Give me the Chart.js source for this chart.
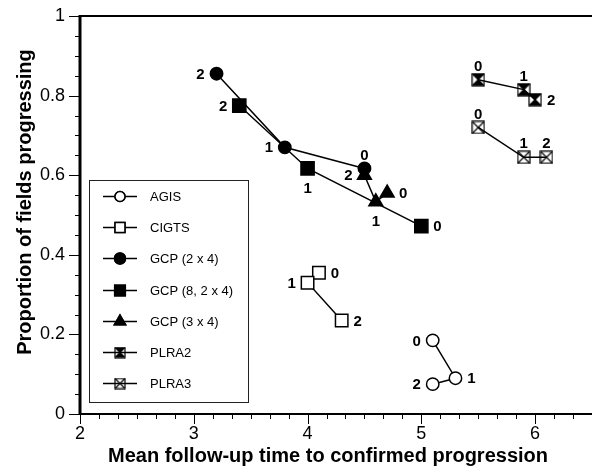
<!DOCTYPE html>
<html>
<head>
<meta charset="utf-8">
<script src="https://cdn.jsdelivr.net/npm/chart.js@4.4.1/dist/chart.umd.min.js"></script>
<style>
  html, body { margin: 0; padding: 0; background: #fff; }
</style>
</head>
<body>
<canvas id="chart" width="592" height="472"></canvas>
<script>
// ---- data ----
const seriesNames = ['AGIS', 'CIGTS', 'GCP (2 x 4)', 'GCP (8, 2 x 4)', 'GCP (3 x 4)', 'PLRA2', 'PLRA3'];
const pointLabels = ['0', '1', '2'];

const agisX = [5.1, 5.3, 5.1];
const agisY = [0.185, 0.09, 0.075];
const cigtsX = [4.1, 4.0, 4.3];
const cigtsY = [0.355, 0.33, 0.235];
const gcp24X = [4.5, 3.8, 3.2];
const gcp24Y = [0.617, 0.67, 0.855];
const gcp824X = [5.0, 4.0, 3.4];
const gcp824Y = [0.472, 0.617, 0.775];
const gcp34X = [4.7, 4.6, 4.5];
const gcp34Y = [0.555, 0.533, 0.60];
const plra2X = [5.5, 5.9, 6.0];
const plra2Y = [0.84, 0.815, 0.79];
const plra3X = [5.5, 5.9, 6.1];
const plra3Y = [0.72, 0.645, 0.645];

const xTicks = [2, 3, 4, 5, 6];
const yTicks = [0, 0.2, 0.4, 0.6, 0.8, 1];
const xTitle = 'Mean follow-up time to confirmed progression';
const yTitle = 'Proportion of fields progressing';

// ---- styling ----
const FONT = "'Liberation Sans', Arial, Helvetica, sans-serif";
// side of each point's number label (l, r, t, b), per series
const labelSides = [
    ['l', 'r', 'l'],
    ['r', 'l', 'r'],
    ['t', 'l', 'l'],
    ['r', 'b', 'l'],
    ['r', 'b', 'l'],
    ['t', 't', 'r'],
    ['t', 't', 't']
];

function boxX(size, fill) {
    const c = document.createElement('canvas');
    c.width = size + 2;
    c.height = size + 2;
    const g = c.getContext('2d');
    const o = 1, s = size;
    g.fillStyle = '#000';
    g.beginPath();
    if (fill === 'tb') {
        g.moveTo(o, o); g.lineTo(o + s, o); g.lineTo(o + s / 2, o + s / 2); g.closePath();
        g.moveTo(o, o + s); g.lineTo(o + s, o + s); g.lineTo(o + s / 2, o + s / 2); g.closePath();
    }
    g.fill();
    g.strokeStyle = '#000';
    g.lineWidth = 1.2;
    g.strokeRect(o, o, s, s);
    g.beginPath();
    g.moveTo(o, o); g.lineTo(o + s, o + s);
    g.moveTo(o + s, o); g.lineTo(o, o + s);
    g.stroke();
    return c;
}

const plra2Img = boxX(12, 'tb');
const plra3Img = boxX(12, 'none');
const plra2Leg = boxX(10, 'tb');
const plra3Leg = boxX(10, 'none');

function pts(xs, ys) {
    return xs.map((x, i) => ({ x: x, y: ys[i] }));
}

const styles = [
    { pointStyle: 'circle', radius: 6.2, fill: '#fff', legR: 5 },
    { pointStyle: 'rect', radius: 8.8, fill: '#fff', legR: 7 },
    { pointStyle: 'circle', radius: 6.2, fill: '#000', legR: 5.5 },
    { pointStyle: 'rect', radius: 9.3, fill: '#000', legR: 7.5 },
    { pointStyle: 'triangle', radius: 8, fill: '#000', legR: 6.5 },
    { pointStyle: plra2Img, radius: 7, fill: '#000', leg: plra2Leg },
    { pointStyle: plra3Img, radius: 7, fill: '#fff', leg: plra3Leg }
];

const seriesData = [
    pts(agisX, agisY), pts(cigtsX, cigtsY), pts(gcp24X, gcp24Y), pts(gcp824X, gcp824Y),
    pts(gcp34X, gcp34Y), pts(plra2X, plra2Y), pts(plra3X, plra3Y)
];

const datasets = seriesData.map((d, i) => ({
    label: seriesNames[i],
    data: d,
    showLine: true,
    borderColor: '#000',
    borderWidth: 1.5,
    pointStyle: styles[i].pointStyle,
    pointRadius: styles[i].radius,
    pointHoverRadius: styles[i].radius,
    pointBackgroundColor: styles[i].fill,
    pointBorderColor: '#000',
    pointBorderWidth: 1.5,
    clip: false
}));

// axes frame, minor ticks, axis titles, point labels, legend box
const decorPlugin = {
    id: 'decor',
    afterDatasetsDraw(chart) {
        const ctx = chart.ctx;
        const ca = chart.chartArea;
        const xs = chart.scales.x, ys = chart.scales.y;
        ctx.save();
        ctx.strokeStyle = '#000';

        // ticks
        ctx.lineWidth = 1;
        ctx.beginPath();
        for (let k = 0; k <= 26; k++) {
            const v = 2 + k / 6;
            if (v > 6.49) break;
            const px = Math.round(xs.getPixelForValue(v)) + 0.5;
            const len = (k % 6 === 0) ? 10 : 5;
            ctx.moveTo(px, ca.bottom);
            ctx.lineTo(px, ca.bottom + len);
        }
        for (let k = 0; k <= 20; k++) {
            const py = Math.round(ys.getPixelForValue(k * 0.05)) + 0.5;
            const len = (k % 4 === 0) ? 11 : 5;
            ctx.moveTo(ca.left, py);
            ctx.lineTo(ca.left - len, py);
        }
        ctx.stroke();

        // frame lines
        ctx.lineWidth = 2;
        ctx.beginPath();
        ctx.moveTo(ca.left, ca.top);
        ctx.lineTo(ca.right, ca.top);
        ctx.moveTo(ca.left, ca.bottom);
        ctx.lineTo(ca.right, ca.bottom);
        ctx.stroke();
        ctx.lineWidth = 3;
        ctx.beginPath();
        ctx.moveTo(ca.left, ca.top - 1);
        ctx.lineTo(ca.left, ca.bottom + 1);
        ctx.stroke();

        // axis titles
        ctx.fillStyle = '#000';
        ctx.font = 'bold 20px ' + FONT;
        ctx.textAlign = 'center';
        ctx.textBaseline = 'middle';
        ctx.fillText(xTitle, 328, 456);
        ctx.save();
        ctx.translate(25, 202);
        ctx.rotate(-Math.PI / 2);
        ctx.fillText(yTitle, 0, 0);
        ctx.restore();

        // point number labels
        ctx.font = 'bold 15px ' + FONT;
        chart.data.datasets.forEach((ds, i) => {
            const meta = chart.getDatasetMeta(i);
            meta.data.forEach((el, j) => {
                const side = labelSides[i][j];
                let x = el.x, y = el.y + 1;
                if (side === 'l') x -= 16;
                if (side === 'r') x += 16;
                if (side === 't') y -= 14;
                if (side === 'b') y += 19;
                ctx.fillText(pointLabels[j], x, y);
            });
        });

        // legend box
        const bx = 89, by = 180, bw = 159, bh = 222;
        ctx.lineWidth = 1;
        ctx.strokeStyle = '#222';
        ctx.strokeRect(bx + 0.5, by + 0.5, bw, bh);
        ctx.font = '13px ' + FONT;
        ctx.textAlign = 'left';
        seriesNames.forEach((name, i) => {
            const ry = Math.round(by + 16 + i * 31.2) + 0.5;
            ctx.strokeStyle = '#000';
            ctx.lineWidth = 1.5;
            ctx.beginPath();
            ctx.moveTo(bx + 14, ry);
            ctx.lineTo(bx + 48, ry);
            ctx.stroke();
            const st = styles[i];
            const mx = bx + 31;
            if (st.leg) {
                ctx.drawImage(st.leg, mx - st.leg.width / 2, ry - st.leg.height / 2);
            } else {
                Chart.helpers.drawPoint(ctx, {
                    pointStyle: st.pointStyle, radius: st.legR, borderWidth: 1.5,
                    rotation: 0
                }, mx, ry);
                ctx.fillStyle = st.fill;
                ctx.fill();
                ctx.strokeStyle = '#000';
                ctx.stroke();
            }
            ctx.fillStyle = '#000';
            ctx.fillText(name, bx + 61, ry + 1);
        });
        ctx.restore();
    }
};

new Chart(document.getElementById('chart'), {
    type: 'scatter',
    data: { datasets: datasets },
    options: {
        responsive: false,
        animation: false,
        layout: { autoPadding: false, padding: { top: 16, right: 0, left: 0, bottom: 0 } },
        plugins: {
            legend: { display: false },
            tooltip: { enabled: false }
        },
        scales: {
            x: {
                type: 'linear',
                min: 2,
                max: 6.5,
                afterBuildTicks: s => { s.ticks = xTicks.map(v => ({ value: v })); },
                afterFit: s => { s.height = 58; s.paddingRight = 0; s.paddingLeft = 0; },
                grid: { display: false, drawTicks: false },
                border: { display: false },
                ticks: {
                    autoSkip: false, maxRotation: 0, padding: 9, color: '#000',
                    font: { family: FONT, size: 18 }
                },
                title: { display: false }
            },
            y: {
                type: 'linear',
                min: 0,
                max: 1,
                afterBuildTicks: s => { s.ticks = yTicks.map(v => ({ value: v })); },
                afterFit: s => { s.width = 80; s.paddingTop = 0; s.paddingBottom = 0; },
                grid: { display: false, drawTicks: false },
                border: { display: false },
                ticks: {
                    autoSkip: false, padding: 15, color: '#000',
                    font: { family: FONT, size: 18 },
                    callback: v => String(Math.round(v * 10) / 10)
                },
                title: { display: false }
            }
        }
    },
    plugins: [decorPlugin]
});
</script>
</body>
</html>
